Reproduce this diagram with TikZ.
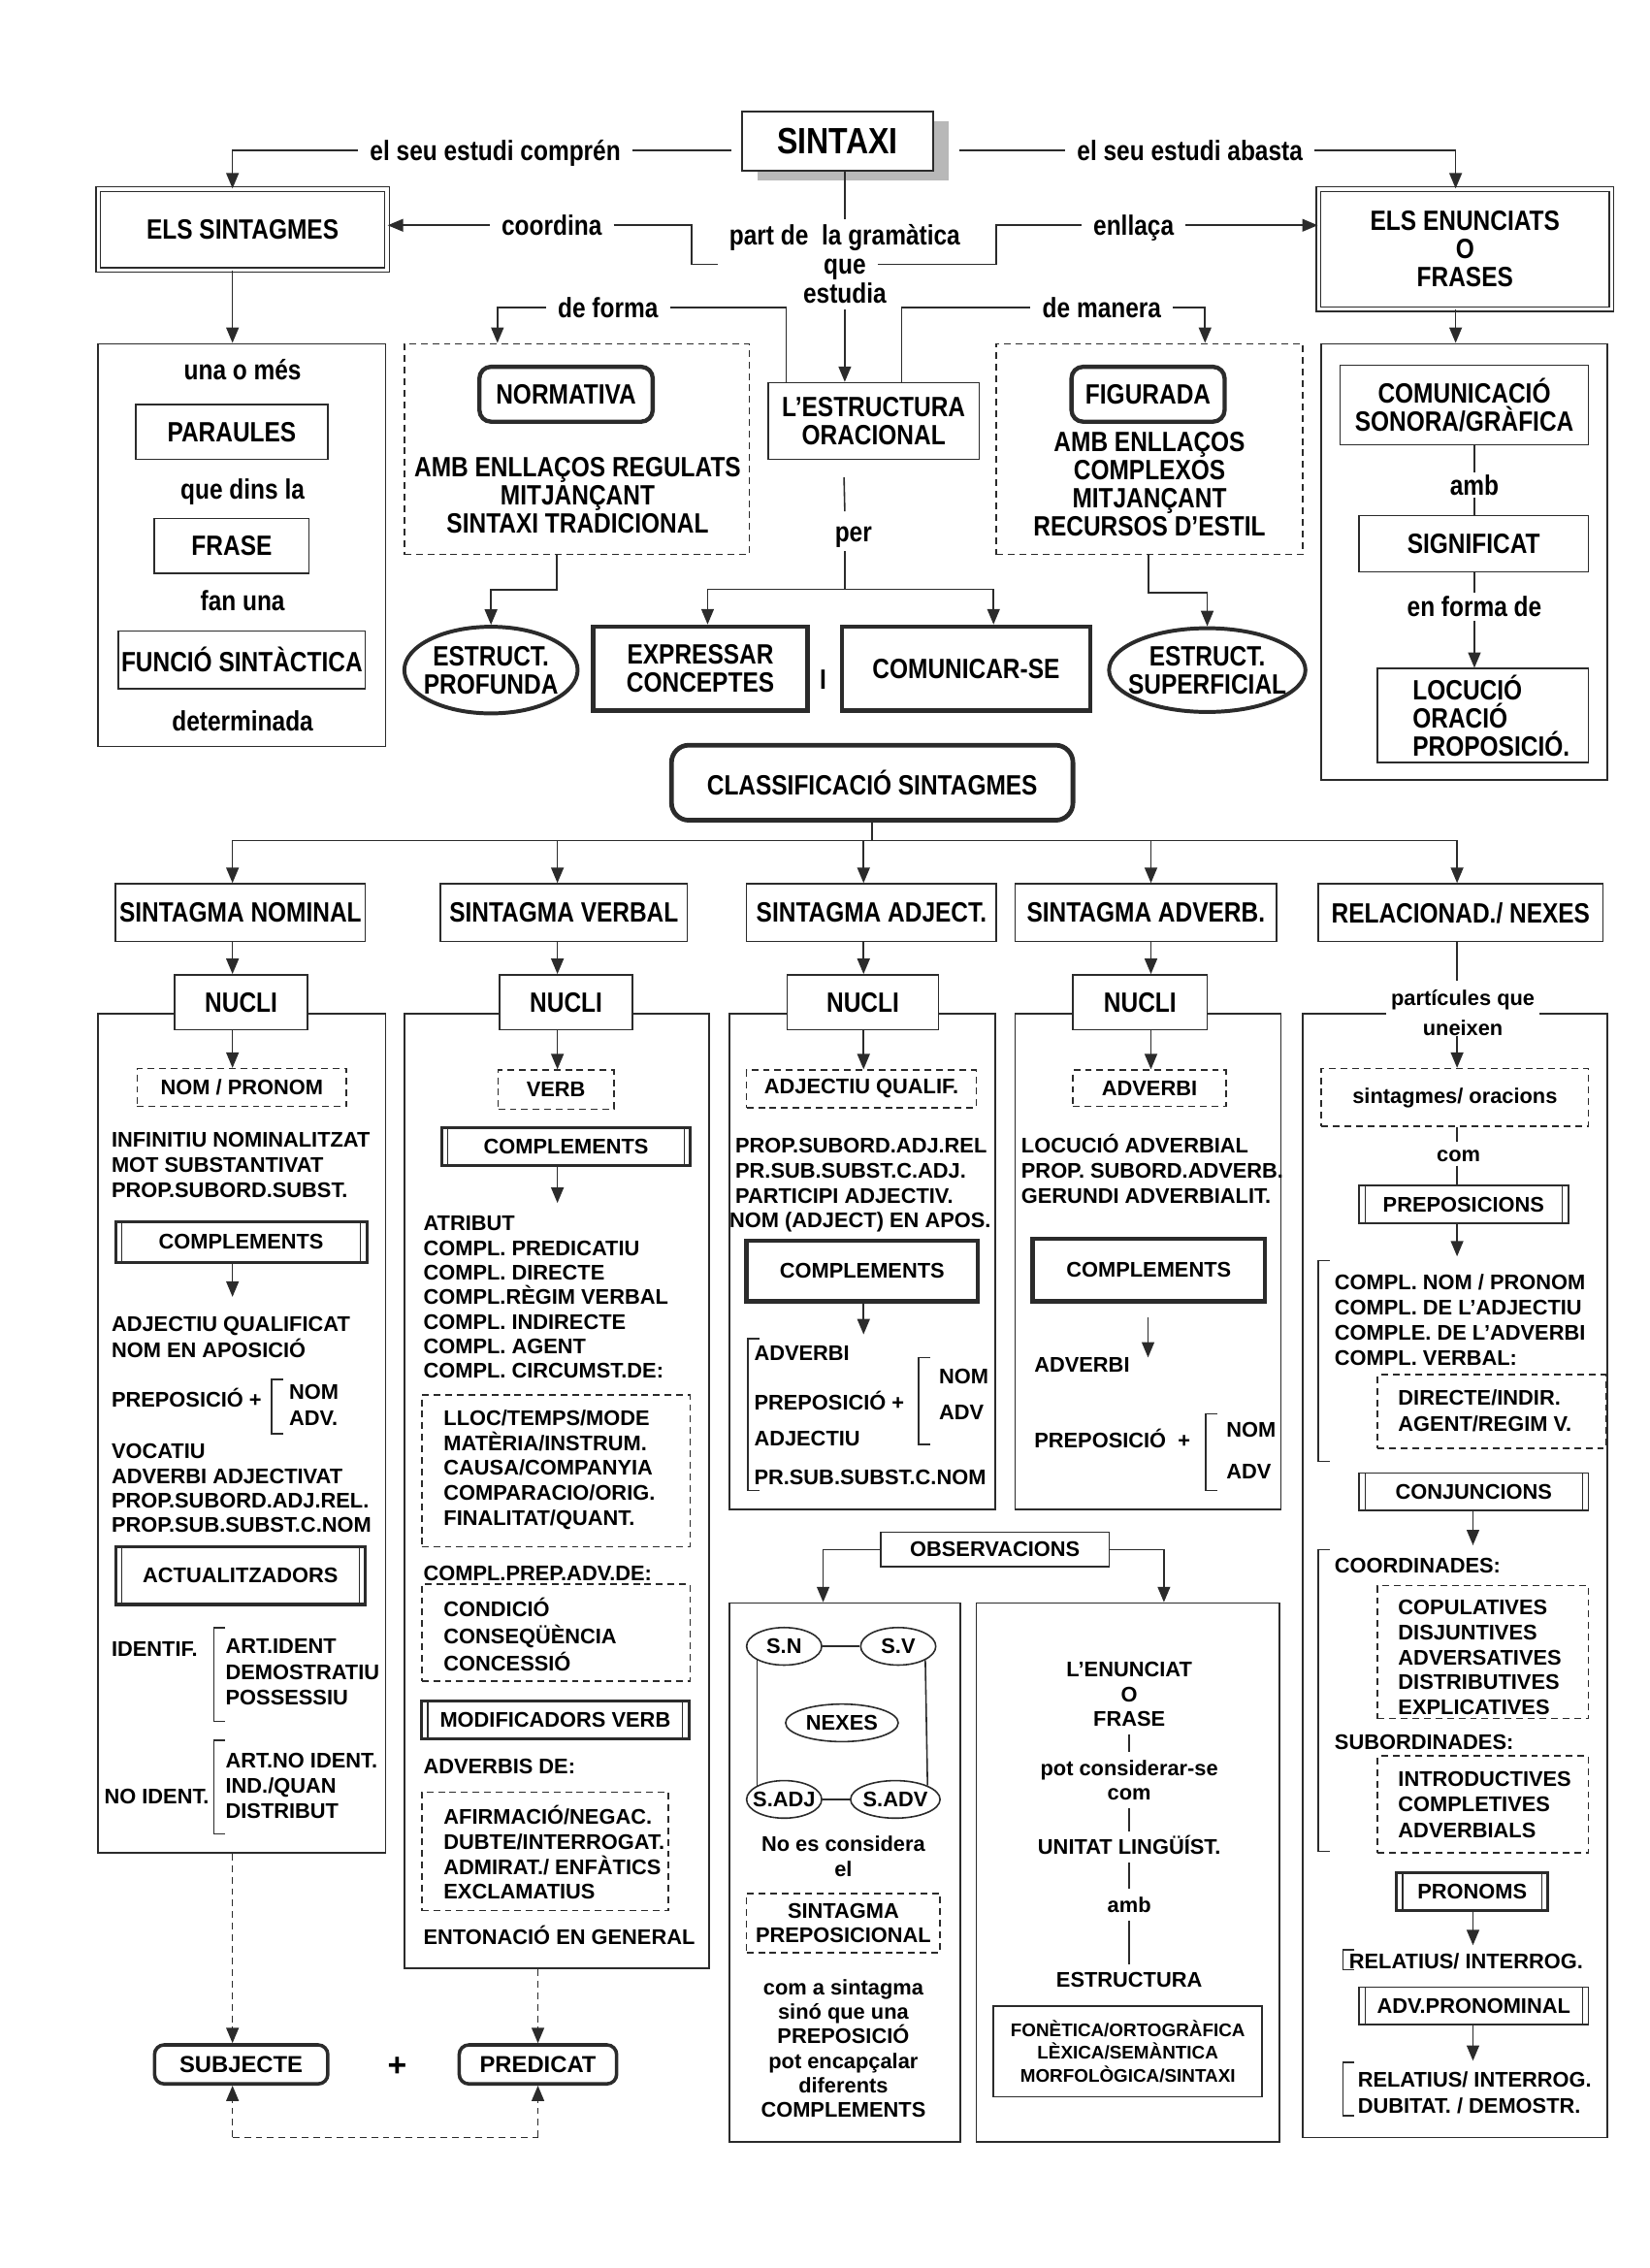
\documentclass[tikz,border=0pt]{standalone}
\usepackage{fontspec}
\setmainfont{Liberation Sans}
\newfontfamily\narrowfam{Liberation Sans}[FakeStretch=0.85]
\usetikzlibrary{arrows.meta,shapes.geometric,calc,shadows}
\definecolor{inkc}{rgb}{0.17,0.17,0.17}
\newcommand\fTop{\narrowfam\bfseries\fontsize{14.5pt}{14.6pt}\selectfont}
\newcommand\fBig{\narrowfam\bfseries\fontsize{19pt}{21pt}\selectfont}
\newcommand\fCol{\bfseries\fontsize{11pt}{12.75pt}\selectfont}
\newcommand\fSm{\bfseries\fontsize{9.5pt}{11.7pt}\selectfont}
\newcommand\fSub{\bfseries\fontsize{12pt}{14pt}\selectfont}
% box: [style]{name}{x1}{y1}{x2}{y2}{text}
\newcommand\bx[7][]{\node[inner sep=0pt,#1,minimum width={(#5-#3)*0.75pt},minimum height={(#6-#4)*0.75pt}] (#2) at ({(#3+#5)/2},{(#4+#6)/2}) {#7};}
% lines: {style}{prefix}{x}{y0}{dy}{list}
\newcommand\ml[6]{\foreach \lntxt [count=\lni from 0] in {#6}{\node[#1] (#2\lni) at (#3,{#4+#5*\lni}) {\lntxt};}}
% ellipse: [text opts]{name}{x}{y}{w}{h}{shape style}{text}
\newcommand\elln[8][]{\node[#7,inner sep=0pt,minimum width={#5*0.75pt},minimum height={#6*0.75pt}] (#2) at (#3,#4) {};
  \node[align=center,inner sep=0pt,#1] (#2t) at (#2.center) {#8};}
\tikzset{
 ln/.style={draw=inkc,line width=0.8pt},
 arr/.style={ln,-{Triangle[length=8pt,width=6.5pt]}},
 darr/.style={arr,dash pattern=on 3.5pt off 2.5pt},
 dln/.style={ln,dash pattern=on 3.5pt off 2.5pt},
 tbox/.style={draw=inkc,line width=0.8pt,fill=white,align=center},
 dblbox/.style={draw=inkc,line width=0.7pt,double,double distance=1.6pt,align=center},
 hbox/.style={draw=inkc,line width=2.4pt,fill=white,align=center},
 rdbox/.style={draw=inkc,line width=2.2pt,rounded corners=6pt,fill=white,align=center},
 dbx/.style={draw=inkc,line width=0.8pt,dash pattern=on 3.5pt off 2.5pt,align=center},
 sidelines/.style={path picture={\draw[draw=inkc,line width=0.6pt]
   ([xshift=3.2pt]path picture bounding box.north west) -- ([xshift=3.2pt]path picture bounding box.south west)
   ([xshift=-3.2pt]path picture bounding box.north east) -- ([xshift=-3.2pt]path picture bounding box.south east);}},
 pbox/.style={draw=inkc,line width=1.6pt,fill=white,align=center,sidelines},
 tpbox/.style={draw=inkc,line width=0.8pt,fill=white,align=center,sidelines},
 ellb/.style={ellipse,draw=inkc,line width=2pt},
 ells/.style={ellipse,draw=inkc,line width=0.8pt},
 lt/.style={font=\fTop,text height=10.4pt,text depth=0pt,inner sep=0pt},
 lc/.style={font=\fCol,text height=7.9pt,text depth=0pt,inner sep=0pt},
 lw/.style={lc,anchor=west},
}
\begin{document}
\begin{tikzpicture}[x=0.75pt,y=-0.75pt]
\fill[white] (0,0) rectangle (1142,1570.5);
\useasboundingbox (0,0) rectangle (1142,1570.5);
\coordinate (c1) at (161,0); \coordinate (c2) at (386,0); \coordinate (c3) at (598,0);
\coordinate (c4) at (797,0); \coordinate (c5) at (1009,0); \coordinate (c5b) at (1020,0);

% ================= TOP =================
\bx[tbox,font=\fBig,line width=1pt,drop shadow={shadow xshift=8pt,shadow yshift=-5pt,fill=black!28,opacity=1}]{sintaxi}{514}{77}{646}{118}{SINTAXI}
\node[lt,inner xsep=6pt] (lab1) at (343,104) {el seu estudi comprén};
\node[lt,inner xsep=6pt] (lab2) at (824,104) {el seu estudi abasta};
\bx[dblbox,font=\fTop]{els}{68}{131}{268}{187}{ELS SINTAGMES}
\bx[dblbox,font=\fTop]{enun}{913}{131}{1116}{214}{ELS ENUNCIATS\\O\\FRASES}
\node[lt,inner xsep=6pt] (coord) at (382,156) {coordina};
\node[lt,inner xsep=6pt,inner ysep=3pt] (part1) at (585,163) {part de\ \ la gramàtica};
\node[lt,inner xsep=6pt,inner ysep=3pt] (part2) at (585,183) {que};
\node[lt,inner xsep=6pt,inner ysep=3pt] (part3) at (585,203) {estudia};
\node[lt,inner xsep=6pt] (enl) at (785,156) {enllaça};
\node[lt,inner xsep=6pt] (dforma) at (421,213) {de forma};
\node[lt,inner xsep=6pt] (dman) at (763,213) {de manera};

\draw[ln,shorten >=5pt] (lab1.east) -- (lab1.east -| sintaxi.west);
\draw[arr] (lab1.west) -| ($(els.north)+(-7,0)$);
\draw[ln,shorten <=13pt] (sintaxi.east |- lab2.west) -- (lab2.west);
\draw[arr] (lab2.east) -| ($(enun.north)+(-6.5,0)$);
\draw[arr] (coord.west) -- (coord.west -| els.east);
\draw[ln] (coord.east) -- ++(54,0) |- (part1.west |- part2.west);
\draw[ln] (part2.east) -- ++(82,0) |- (enl.west);
\draw[arr] (enl.east) -- (enl.east -| enun.west);
\draw[ln] (part1.north |- sintaxi.south) -- (part1.north);

% normativa / figurada
\bx[dbx]{normbox}{280}{238}{519}{384}{}
\bx[rdbox,font=\fTop]{normt}{332}{254}{452}{292}{NORMATIVA}
\ml{lt}{nl}{400}{323}{19.5}{AMB ENLLAÇOS REGULATS,MITJANÇANT,SINTAXI TRADICIONAL}
\bx[tbox,font=\fTop]{estr}{532}{265}{678}{318}{L’ESTRUCTURA\\ORACIONAL}
\bx[dbx]{figbox}{690}{238}{902}{384}{}
\bx[rdbox,font=\fTop]{figt}{742}{254}{848}{292}{FIGURADA}
\ml{lt}{fl}{796}{306}{19.5}{AMB ENLLAÇOS,COMPLEXOS,MITJANÇANT,RECURSOS D’ESTIL}
\node[lt,inner ysep=5pt] (per) at (591,368) {per};

\draw[arr] (part3.south) -- (part3.south |- estr.north);
\draw[ln] ($(estr.north west)+(13,0)$) |- (dforma.east);
\draw[arr] (dforma.west) -| ($(normbox.north west)+(65,0)$);
\draw[ln] ($(estr.north west)+(93,0)$) |- (dman.west);
\draw[arr] (dman.east) -| ($(figbox.north west)+(145,0)$);

\elln[font=\fTop]{prof}{340}{464}{120}{60}{ellb}{ESTRUCT.\\PROFUNDA}
\elln[font=\fTop]{sup}{836}{464}{136}{58}{ellb}{ESTRUCT.\\SUPERFICIAL}
\bx[hbox,font=\fTop]{expr}{411}{434}{559}{492}{EXPRESSAR\\CONCEPTES}
\node[lt] (andI) at (570,470) {I};
\bx[hbox,font=\fTop]{comu}{583}{434}{755}{492}{COMUNICAR-SE}

\coordinate (pj) at (585,408);
\draw[ln] ($(estr.south west)+(53,12)$) -- (pj |- per.north);
\draw[ln] (pj |- per.south) -- (pj);
\draw[arr] (pj) -| ($(expr.north)+(5,0)$);
\draw[arr] (pj) -| ($(comu.north)+(19,0)$);
\draw[arr] ($(normbox.south west)+(106,0)$) -- ++(0,24) -| (prof.north);
\draw[arr] ($(figbox.south west)+(106,0)$) -- ++(0,26) -| (sup.north);

% left box
\bx[tbox]{lbox}{68}{238}{267}{517}{}
\node[lt] (l1) at (168,256) {una o més};
\bx[tbox,font=\fTop]{parau}{94}{280}{227}{318}{PARAULES}
\node[lt] (l2) at (168,339) {que dins la};
\bx[tbox,font=\fTop]{frase}{107}{359}{214}{397}{FRASE}
\node[lt] (l3) at (168,416) {fan una};
\bx[tbox,font=\fTop]{funcio}{82}{437}{253}{477}{FUNCIÓ SINTÀCTICA}
\node[lt] (l4) at (168,499) {determinada};
\draw[arr] ($(els.south)+(-7,0)$) -- ($(lbox.north)+(-6.5,0)$);

% right box
\bx[tbox]{rbox}{915}{238}{1113}{540}{}
\bx[tbox,font=\fTop]{comg}{928}{253}{1100}{308}{COMUNICACIÓ\\SONORA/GRÀFICA}
\node[lt,inner ysep=1pt] (amb) at (1021,336) {amb};
\bx[tbox,font=\fTop]{sig}{941}{357}{1100}{396}{SIGNIFICAT}
\node[lt,inner ysep=2pt] (enf) at (1021,420) {en forma de};
\bx[tbox]{loc}{954}{463}{1100}{528}{}
\ml{lt,anchor=west}{locl}{978}{478}{19.5}{LOCUCIÓ,ORACIÓ,PROPOSICIÓ.}
\draw[arr] ($(enun.south)+(-6.5,0)$) -- ($(rbox.north)+(-6,0)$);
\draw[ln] (comg.south -| amb.north) -- (amb.north);
\draw[ln] (amb.south) -- (amb.south |- sig.north);
\draw[ln] (enf.north |- sig.south) -- (enf.north);
\draw[arr] (enf.south) -- (enf.south |- loc.north);

% ================= CLASSIFICATION =================
\bx[rdbox,font=\fTop,line width=2.4pt,rounded corners=9pt]{clas}{465}{516}{743}{568}{CLASSIFICACIÓ SINTAGMES}
\coordinate (cj) at (604,582);
\draw[ln] (clas.south) -- (cj);
\bx[tbox,font=\fTop]{h1}{80}{612}{253}{652}{SINTAGMA NOMINAL}
\bx[tbox,font=\fTop]{h2}{305}{612}{476}{652}{SINTAGMA VERBAL}
\bx[tbox,font=\fTop]{h3}{517}{612}{690}{652}{SINTAGMA ADJECT.}
\bx[tbox,font=\fTop]{h4}{703}{612}{884}{652}{SINTAGMA ADVERB.}
\bx[tbox,font=\fTop]{h5}{913}{612}{1110}{652}{RELACIONAD./ NEXES}
\draw[arr] (cj) -| (h1.north -| c1);
\draw[arr] (cj) -| (h2.north -| c2);
\draw[arr] (cj) -| (h3.north -| c3);
\draw[arr] (cj) -| (h4.north -| c4);
\draw[arr] (cj) -| (h5.north -| c5);

% column frames
\bx[tbox]{b1}{68}{702}{267}{1283}{}
\bx[tbox]{b2}{280}{702}{491}{1363}{}
\bx[tbox]{b3}{505}{702}{689}{1045}{}
\bx[tbox]{b4}{703}{702}{887}{1045}{}
\bx[tbox]{b5}{902}{702}{1113}{1480}{}
\bx[tbox,font=\fTop]{n1}{121}{675}{213}{713}{NUCLI}
\bx[tbox,font=\fTop]{n2}{346}{675}{438}{713}{NUCLI}
\bx[tbox,font=\fTop]{n3}{545}{675}{650}{713}{NUCLI}
\bx[tbox,font=\fTop]{n4}{743}{675}{836}{713}{NUCLI}
\node[lc,fill=white,inner xsep=2.5pt,inner ysep=5pt] (pq1) at (1013,691) {partícules que};
\node[lc] (pq2) at (1013,712) {uneixen};
\draw[arr] (h1.south -| c1) -- (n1.north -| c1);
\draw[arr] (h2.south -| c2) -- (n2.north -| c2);
\draw[arr] (h3.south -| c3) -- (n3.north -| c3);
\draw[arr] (h4.south -| c4) -- (n4.north -| c4);
\draw[ln] (h5.south -| c5) -- (pq1.north -| c5);

% ---- column 1
\bx[dbx,font=\fCol]{np}{95}{740}{240}{766}{NOM / PRONOM}
\draw[arr] (n1.south -| c1) -- (np.north -| c1);
\ml{lw}{ka}{77}{789}{17.5}{INFINITIU NOMINALITZAT,MOT SUBSTANTIVAT,PROP.SUBORD.SUBST.}
\bx[pbox,font=\fCol]{comp1}{80}{846}{254}{874}{COMPLEMENTS}
\coordinate (e1) at (161,898);
\draw[arr] (comp1.south -| c1) -- (e1);
\ml{lw}{kb}{77}{917}{18}{ADJECTIU QUALIFICAT,NOM EN APOSICIÓ}
\node[lw] (prep1) at (77,969) {PREPOSICIÓ +};
\draw[ln] (196,955) -| (188,993) -- (196,993);
\ml{lw}{kc}{200}{964}{18}{NOM,ADV.}
\ml{lw}{kd}{77}{1005}{17}{VOCATIU,ADVERBI ADJECTIVAT,PROP.SUBORD.ADJ.REL.,PROP.SUB.SUBST.C.NOM}
\bx[pbox,font=\fCol]{actu}{80}{1071}{253}{1111}{ACTUALITZADORS}
\node[lw] (idf) at (77,1142) {IDENTIF.};
\draw[ln] (156,1127) -| (148,1192) -- (156,1192);
\ml{lw}{ke}{156}{1140}{17.5}{ART.IDENT,DEMOSTRATIU,POSSESSIU}
\node[lw] (nidf) at (72,1244) {NO IDENT.};
\draw[ln] (156,1205) -| (148,1270) -- (156,1270);
\ml{lw}{kf}{156}{1219}{17.5}{ART.NO IDENT.,IND./QUAN,DISTRIBUT}

% ---- column 2
\bx[dbx,font=\fCol]{verb}{345}{741}{425}{768}{VERB}
\draw[arr] (n2.south -| c2) -- (verb.north -| c2);
\bx[pbox,font=\fCol]{comp2}{306}{781}{478}{807}{COMPLEMENTS}
\coordinate (e2) at (386,833);
\draw[arr] (comp2.south -| c2) -- (e2);
\ml{lw}{va}{293}{847}{17}{ATRIBUT,COMPL. PREDICATIU,COMPL. DIRECTE,COMPL.RÈGIM VERBAL,COMPL. INDIRECTE,COMPL. AGENT,COMPL. CIRCUMST.DE:}
\bx[dbx]{vd1}{292}{966}{478}{1071}{}
\ml{lw}{vb}{307}{982}{17.2}{LLOC/TEMPS/MODE,MATÈRIA/INSTRUM.,CAUSA/COMPANYIA,COMPARACIO/ORIG.,FINALITAT/QUANT.}
\node[lw] (vc) at (293,1089) {COMPL.PREP.ADV.DE:};
\bx[dbx]{vd2}{292}{1097}{478}{1164}{}
\ml{lw}{vd}{307}{1114}{19}{CONDICIÓ,CONSEQÜÈNCIA,CONCESSIÓ}
\bx[pbox,font=\fCol]{modv}{292}{1178}{477}{1204}{MODIFICADORS VERB}
\node[lw] (ve) at (293,1223) {ADVERBIS DE:};
\bx[dbx]{vd3}{292}{1241}{463}{1323}{}
\ml{lw}{vf}{307}{1258}{17.3}{AFIRMACIÓ/NEGAC.,DUBTE/INTERROGAT.,ADMIRAT./ ENFÀTICS,EXCLAMATIUS}
\node[lw] (vg) at (293,1341) {ENTONACIÓ EN GENERAL};

% ---- column 3
\bx[dbx,font=\fCol]{aq}{517}{741}{676}{767}{ADJECTIU QUALIF.}
\draw[arr] (n3.south -| c3) -- (aq.north -| c3);
\ml{lw}{ja}{509}{793}{17.5}{PROP.SUBORD.ADJ.REL,PR.SUB.SUBST.C.ADJ.,PARTICIPI ADJECTIV.}
\node[lw] (jb) at (505,845) {NOM (ADJECT) EN APOS.};
\bx[hbox,font=\fCol,line width=2.2pt]{comp3}{517}{859}{677}{901}{COMPLEMENTS}
\coordinate (e3) at (598,924);
\draw[arr] (comp3.south -| c3) -- (e3);
\draw[ln] (526,927) -| (518,1032) -- (526,1032);
\node[lw] (jc0) at (522,937) {ADVERBI};
\node[lw] (jc1) at (522,971) {PREPOSICIÓ +};
\node[lw] (jc2) at (522,996) {ADJECTIU};
\node[lw] (jc3) at (522,1023) {PR.SUB.SUBST.C.NOM};
\draw[ln] (644,940) -| (636,1000) -- (644,1000);
\node[lw] (jd0) at (650,953) {NOM};
\node[lw] (jd1) at (650,978) {ADV};

% ---- column 4
\bx[dbx,font=\fCol]{adv}{743}{741}{849}{766}{ADVERBI}
\draw[arr] (n4.south -| c4) -- (adv.north -| c4);
\ml{lw}{ga}{707}{793}{17.5}{LOCUCIÓ ADVERBIAL,PROP. SUBORD.ADVERB.,GERUNDI ADVERBIALIT.}
\bx[hbox,font=\fCol,line width=2.2pt]{comp4}{715}{858}{876}{901}{COMPLEMENTS}
\coordinate (e4a) at (795,912); \coordinate (e4b) at (795,940);
\draw[arr] (e4a) -- (e4b);
\node[lw] (gb) at (716,945) {ADVERBI};
\node[lw] (gc) at (716,997) {PREPOSICIÓ\ \ +};
\draw[ln] (843,979) -| (835,1032) -- (843,1032);
\node[lw] (gd0) at (849,990) {NOM};
\node[lw] (gd1) at (849,1019) {ADV};

% ---- column 5
\bx[dbx,font=\fCol]{sorac}{915}{740}{1100}{780}{sintagmes/ oracions}
\draw[arr] (pq2.south -| c5) -- (sorac.north -| c5);
\node[lc,inner ysep=2pt] (com5) at (1010,799) {com};
\draw[ln] (sorac.south -| c5) -- (com5.north -| c5);
\bx[tpbox,font=\fCol]{prep}{941}{821}{1086}{847}{PREPOSICIONS}
\draw[ln] (com5.south -| c5) -- (prep.north -| c5);
\coordinate (e5a) at (1009,870);
\draw[arr] (prep.south -| c5) -- (e5a);
\draw[ln] (921,873) -| (913,1012) -- (921,1012);
\ml{lw}{ra}{924}{888}{17.3}{COMPL. NOM / PRONOM,COMPL. DE L’ADJECTIU,COMPLE. DE L’ADVERBI,COMPL. VERBAL:}
\bx[dbx]{rd1}{954}{952}{1112}{1003}{}
\ml{lw}{rb}{968}{968}{18}{DIRECTE/INDIR.,AGENT/REGIM V.}
\bx[tpbox,font=\fCol]{conj}{941}{1020}{1100}{1046}{CONJUNCIONS}
\coordinate (e5b) at (1020,1070);
\draw[arr] (conj.south -| c5b) -- (e5b);
\draw[ln] (921,1073) -| (913,1282) -- (921,1282);
\node[lw] (rc) at (924,1084) {COORDINADES:};
\bx[dbx]{rd2}{954}{1098}{1100}{1190}{}
\ml{lw}{rd}{968}{1113}{17.25}{COPULATIVES,DISJUNTIVES,ADVERSATIVES,DISTRIBUTIVES,EXPLICATIVES}
\node[lw] (re) at (924,1206) {SUBORDINADES:};
\bx[dbx]{rd3}{954}{1216}{1100}{1283}{}
\ml{lw}{rf}{968}{1232}{17.5}{INTRODUCTIVES,COMPLETIVES,ADVERBIALS}
\bx[pbox,font=\fCol]{pron}{967}{1297}{1072}{1323}{PRONOMS}
\coordinate (e5c) at (1020,1347);
\draw[arr] (pron.south -| c5b) -- (e5c);
\draw[ln] (938,1350) -| (930,1364) -- (938,1364);
\node[lw] (rg) at (934,1358) {RELATIUS/ INTERROG.};
\bx[tpbox,font=\fCol]{advp}{941}{1376}{1100}{1402}{ADV.PRONOMINAL}
\coordinate (e5d) at (1020,1427);
\draw[arr] (advp.south -| c5b) -- (e5d);
\draw[ln] (938,1428) -| (930,1465) -- (938,1465);
\ml{lw}{rh}{940}{1440}{18}{RELATIUS/ INTERROG.,DUBITAT. / DEMOSTR.}

% ================= OBSERVACIONS =================
\bx[tbox,font=\fCol]{obs}{610}{1061}{768}{1085}{OBSERVACIONS}
\bx[tbox]{obl}{505}{1110}{665}{1483}{}
\bx[tbox]{obr}{676}{1110}{886}{1483}{}
\draw[arr] (obs.west) -| ($(obl.north)+(-15,0)$);
\draw[arr] (obs.east) -| ($(obr.north)+(25,0)$);

\elln[font=\fCol]{sn}{543}{1140}{52}{26}{ells}{S.N}
\elln[font=\fCol]{sv}{622}{1140}{52}{26}{ells}{S.V}
\elln[font=\fCol]{nex}{583}{1193}{78}{26}{ells}{NEXES}
\elln[font=\fCol]{sadj}{543}{1246}{52}{26}{ells}{S.ADJ}
\elln[font=\fCol]{sadv}{620}{1246}{62}{26}{ells}{S.ADV}
\draw[ln] (sn.east) -- (sv.west);
\draw[ln] (sadj.east) -- (sadv.west);
\draw[ln] (sn.south west) -- (sadj.north west);
\draw[ln] (sv.south east) -- (sadv.north east);
\ml{lc}{oa}{584}{1277}{17}{No es considera,el}
\bx[dbx,font=\fCol]{spp}{517}{1311}{651}{1352}{SINTAGMA\\PREPOSICIONAL}
\ml{lc}{ob}{584}{1376}{17}{com a sintagma,sinó que una,PREPOSICIÓ,pot encapçalar,diferents,COMPLEMENTS}

\node[lc] (oe1) at (782,1156) {L’ENUNCIAT};
\node[lc] (oe2) at (782,1173) {O};
\node[lc,inner ysep=4pt] (oe3) at (782,1190) {FRASE};
\node[lc,inner ysep=4pt] (oe4) at (782,1224) {pot considerar-se};
\node[lc,inner ysep=4pt] (oe5) at (782,1241) {com};
\node[lc,inner ysep=4pt] (oe6) at (782,1279) {UNITAT LINGÜÍST.};
\node[lc,inner ysep=4pt] (oe7) at (782,1319) {amb};
\node[lc,inner ysep=4pt] (oe8) at (782,1371) {ESTRUCTURA};
\draw[ln] (oe3.south) -- (oe4.north);
\draw[ln] (oe5.south) -- (oe6.north);
\draw[ln] (oe6.south) -- (oe7.north);
\draw[ln] (oe7.south) -- (oe8.north);
\bx[tbox,font=\fSm]{fon}{688}{1389}{874}{1452}{FONÈTICA/ORTOGRÀFICA\\LÈXICA/SEMÀNTICA\\MORFOLÒGICA/SINTAXI}

% ================= SUBJECTE + PREDICAT =================
\bx[rdbox,font=\fSub,line width=1.8pt,rounded corners=5pt]{subj}{107}{1416}{227}{1443}{SUBJECTE}
\node[font=\bfseries\fontsize{17pt}{17pt}\selectfont,inner sep=0pt] (plus) at (275,1431) {+};
\bx[rdbox,font=\fSub,line width=1.8pt,rounded corners=5pt]{pred}{318}{1416}{427}{1443}{PREDICAT}
\draw[darr] (b1.south -| c1) -- (subj.north -| c1);
\draw[darr] (b2.south -| pred.north) -- (pred.north);
\coordinate (bl) at (161,1480);
\draw[dln] (bl) -- (bl -| pred.south);
\draw[darr] (bl) -- (subj.south -| c1);
\draw[darr] (bl -| pred.south) -- (pred.south);
\end{tikzpicture}
\end{document}
